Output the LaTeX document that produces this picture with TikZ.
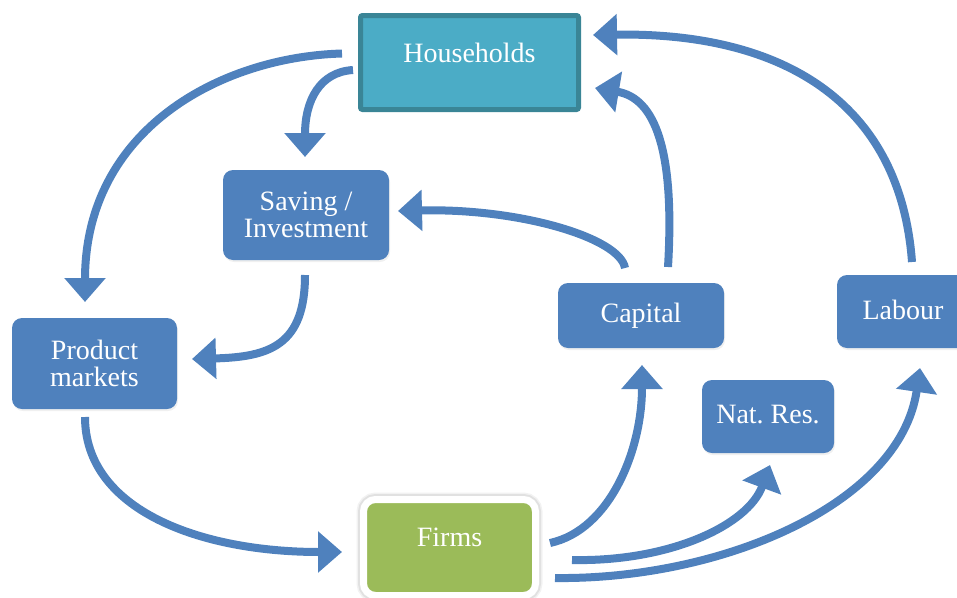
\documentclass[tikz,border=0pt]{standalone}
\usepackage{fontspec}
\setmainfont{Liberation Serif}
\usetikzlibrary{arrows.meta,shadows}
\definecolor{boxblue}{HTML}{4F81BD}
\definecolor{hhfill}{HTML}{4BACC6}
\definecolor{hhline}{HTML}{3A8596}
\definecolor{firmgreen}{HTML}{9BBB59}
\tikzset{
  lbl/.style={text=white,font=\fontsize{28}{28}\selectfont,align=center},
  bluebox/.style={fill=boxblue,rounded corners=10pt,inner sep=0pt,outer sep=0pt,
    lbl,drop shadow={opacity=0.12,shadow xshift=1pt,shadow yshift=-2pt}},
  flow/.style={draw=boxblue,line width=8pt,
    -{Triangle[length=24pt,width=40pt]}},
}
\frenchspacing
\begin{document}
\begin{tikzpicture}[x=1pt,y=-1pt]
\useasboundingbox (0,0) rectangle (957,597);
\clip (0,0) rectangle (957,597);
% nodes
\node[draw=hhline,fill=hhfill,line width=5pt,rounded corners=2pt,
  minimum width=218pt,minimum height=94pt,inner sep=0pt,
  label={[lbl,yshift=10pt]center:Households}] (hh) at (469.5,62.5) {};
\node[bluebox,minimum width=166pt,minimum height=90pt] (si) at (306,215)
  {Saving /\\[-1pt]Investment};
\node[bluebox,minimum width=165pt,minimum height=91pt] (pm) at (94.5,363.5)
  {Product\\[-1pt]markets};
\node[bluebox,minimum width=166pt,minimum height=65pt] (cap) at (641,315.5)
  {\raisebox{2pt}{Capital}};
\node[bluebox,minimum width=132pt,minimum height=73pt] (lab) at (903,311.5)
  {\raisebox{4pt}{Labour}};
\node[bluebox,minimum width=132pt,minimum height=73pt] (nr) at (768,416.5)
  {\raisebox{4pt}{Nat.\ Res.}};
\node[draw=white,fill=firmgreen,line width=7pt,rounded corners=12pt,
  minimum width=172pt,minimum height=96pt,inner sep=0pt,
  preaction={draw=black,draw opacity=0.05,line width=14pt},
  preaction={draw=black,draw opacity=0.07,line width=11pt},
  label={[lbl,yshift=10pt]center:Firms}] (fi) at (449.5,547.5) {};
% connectors
\draw[flow] ([xshift=-16pt,yshift=9pt]hh.west) .. controls (220,57) and (85,130) .. ([xshift=-9.5pt,yshift=16pt]pm.north);
\draw[flow] ([xshift=-5pt,yshift=-7.5pt]hh.west) .. controls (320,72) and (305,100) .. ([xshift=-1pt,yshift=13pt]si.north);
\draw[flow] ([xshift=-1pt,yshift=-15pt]si.south) .. controls (305,345) and (270,357) .. ([xshift=15pt,yshift=4.5pt]pm.east);
\draw[flow] ([xshift=-16pt,yshift=15pt]cap.north) .. controls (620,238) and (520,208) .. ([xshift=9pt,yshift=4pt]si.east);
\draw[flow] ([xshift=27pt,yshift=16pt]cap.north) .. controls (675,150) and (655,98) .. ([xshift=14pt,yshift=-25.5pt]hh.east);
\draw[flow] ([xshift=9pt,yshift=13pt]lab.north) .. controls (900,100) and (780,32) .. ([xshift=12pt,yshift=27.5pt]hh.east);
\draw[flow] ([xshift=-9.5pt,yshift=-8pt]pm.south) .. controls (85,510) and (200,552) .. ([xshift=-18pt,yshift=-4.5pt]fi.west);
\draw[flow] ([xshift=11pt,yshift=4.5pt]fi.east) .. controls (610,530) and (642,450) .. ([xshift=1pt,yshift=-17pt]cap.south);
\draw[flow] ([xshift=33pt,yshift=-12.5pt]fi.east) .. controls (670,562) and (748,525) .. ([xshift=2pt,yshift=-12pt]nr.south);
\draw[flow] ([xshift=16pt,yshift=-30.5pt]fi.east) .. controls (720,580) and (900,505) .. ([xshift=17pt,yshift=-20pt]lab.south);
\end{tikzpicture}
\end{document}
